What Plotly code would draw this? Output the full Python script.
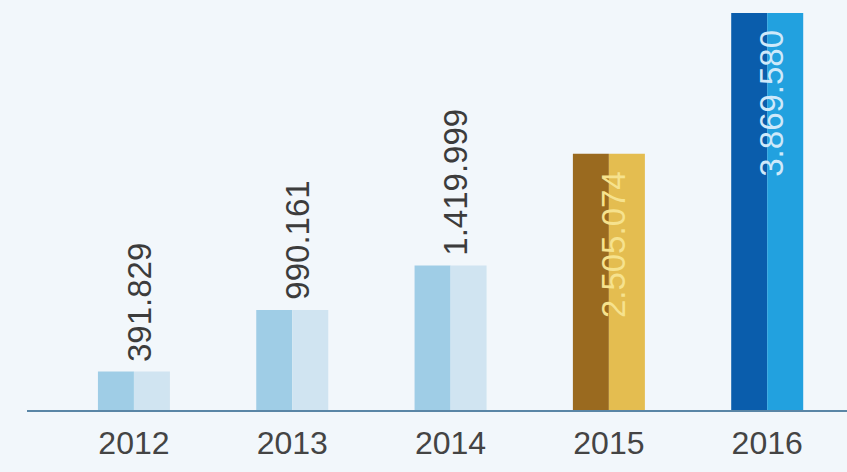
import plotly.graph_objects as go

years = ["2012", "2013", "2014", "2015", "2016"]
values = [391829, 990161, 1419999, 2505074, 3869580]
labels = ["391.829", "990.161", "1.419.999", "2.505.074", "3.869.580"]

left_colors = ["#9fcde6", "#9fcde6", "#9fcde6", "#9a6a1f", "#0a5dac"]
right_colors = ["#d0e4f1", "#d0e4f1", "#d0e4f1", "#e4bd50", "#22a1df"]
label_inside = [False, False, False, True, True]
inside_colors = [None, None, None, "#f6e28e", "#cfe9fa"]

BG = "#f2f7fb"
FONT = "Liberation Sans, Arial, sans-serif"
half = 0.2274

fig = go.Figure()
fig.add_trace(go.Bar(x=years, y=values, width=half, offset=-half,
                     marker=dict(color=left_colors, line=dict(width=0)),
                     hoverinfo="skip"))
fig.add_trace(go.Bar(x=years, y=values, width=half, offset=0,
                     marker=dict(color=right_colors, line=dict(width=0)),
                     hoverinfo="skip"))

# value labels, rotated; category index used as x position
for i, (v, lab, inside, ic) in enumerate(zip(values, labels, label_inside, inside_colors)):
    if inside:
        fig.add_annotation(x=i, y=v, text=lab, showarrow=False, textangle=-90,
                           xanchor="center", yanchor="top", yshift=-15, xshift=4,
                           font=dict(family=FONT, size=33, color=ic))
    else:
        fig.add_annotation(x=i, y=v, text=lab, showarrow=False, textangle=-90,
                           xanchor="center", yanchor="bottom", yshift=8, xshift=5,
                           font=dict(family=FONT, size=33, color="#3c3c3c"))

# baseline
fig.add_shape(type="line", xref="paper", yref="y", x0=27 / 847, x1=1, y0=0, y1=0,
              line=dict(color="#5a86a6", width=4), layer="above")

fig.update_layout(
    width=847, height=472,
    margin=dict(l=0, r=0, t=0, b=60),
    paper_bgcolor=BG, plot_bgcolor=BG,
    barmode="overlay",
    showlegend=False,
    xaxis=dict(type="category", range=[-0.846, 4.504], showgrid=False,
               showline=False, zeroline=False, ticks="", ticklabelstandoff=9,
               tickfont=dict(family=FONT, size=32, color="#444444")),
    yaxis=dict(range=[0, 3996000], visible=False, showgrid=False, zeroline=False),
)

fig.write_html("out.html")
